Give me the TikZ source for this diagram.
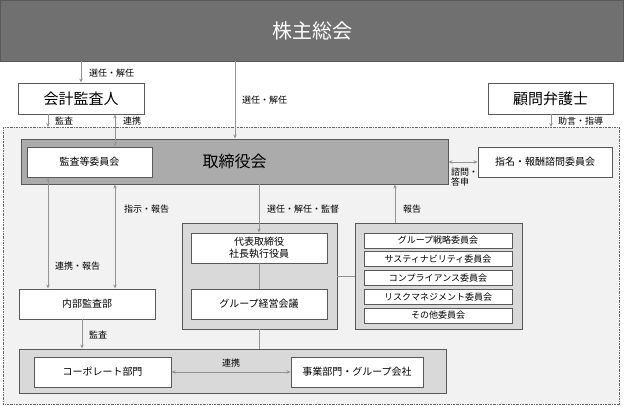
\documentclass[tikz,border=0pt]{standalone}
\usepackage{fontspec}
\setmainfont{Noto Sans CJK JP}
\usetikzlibrary{arrows.meta}
\colorlet{box edge}{black!65}
\colorlet{line gray}{black!42}
\colorlet{banner fill}{black!56}
\colorlet{board fill}{black!33}
\colorlet{group fill}{black!15}
\colorlet{area fill}{black!5}
\tikzset{whitebox/.style={draw=box edge, fill=white, line width=0.9pt, inner sep=0pt,
        font=\fontsize{10}{12}\selectfont},
    groupbox/.style={draw=box edge, fill=group fill, line width=0.9pt, inner sep=0pt},
    itembox/.style={whitebox, minimum width=148pt, minimum height=15pt, font=\fontsize{9}{11}\selectfont},
    conn/.style={draw=line gray, line width=1pt},
    arr/.style={conn, -{Stealth[length=4pt,width=3.5pt]}},
    biarr/.style={conn, {Stealth[length=4pt,width=3.5pt]}-{Stealth[length=4pt,width=3.5pt]}},
    lbl/.style={anchor=west, inner sep=0pt, font=\fontsize{9}{11}\selectfont}}

\begin{document}
\begin{tikzpicture}[x=1pt, y=-1pt]
    \useasboundingbox (0,0) rectangle (624,405);
    % columns for the connectors
    \coordinate (colA) at (48,0);
    \coordinate (colB) at (115,0);
    \coordinate (colC) at (235,0);
    \coordinate (colD) at (259,0);
    \coordinate (colE) at (395,0);
    \coordinate (colF) at (551,0);
    \coordinate (colG) at (82,0);
    \coordinate (edge) at (0,127);
    \coordinate (rowM) at (0,276);

    \node[fill=banner fill, draw=box edge, line width=0.9pt, minimum width=623pt, minimum height=61pt,
        text=white, font=\fontsize{20}{24}\selectfont] (banner) at (312,30.5) {株主総会};
    \node[whitebox, minimum width=126pt, minimum height=31pt, font=\fontsize{15}{18}\selectfont]
        (kaikei) at (81,98.5) {会計監査人};
    \node[whitebox, minimum width=125pt, minimum height=31pt, font=\fontsize{15}{18}\selectfont]
        (komon) at (550.5,98.5) {顧問弁護士};

    \draw[fill=area fill, draw=black!60, line width=0.8pt,
        dash pattern=on 2pt off 1pt on 0.6pt off 1pt] (3,127) rectangle (619,404);

    \node[fill=board fill, draw=box edge, line width=0.9pt, minimum width=427pt, minimum height=45pt,
        font=\fontsize{16}{19}\selectfont] (board) at (234.5,161.5) {取締役会};
    \node[whitebox, minimum width=125pt, minimum height=30pt] (kansa) at (89.5,162) {監査等委員会};
    \node[whitebox, minimum width=134pt, minimum height=30pt] (shimei) at (545,162) {指名・報酬諮問委員会};

    \node[groupbox, minimum width=155pt, minimum height=106pt] (mgmt) at (259.5,276) {};
    \node[whitebox, minimum width=136pt, minimum height=30pt, align=center,
        font=\fontsize{10}{12.5}\selectfont] (daihyo) at (259,248) {代表取締役\\社長執行役員};
    \node[whitebox, minimum width=136pt, minimum height=30pt] (keiei) at (259,304) {グループ経営会議};

    \node[groupbox, minimum width=167pt, minimum height=106pt] (cmte) at (438.5,276) {};
    \foreach \name/\txt [count=\i from 0] in {senryaku/グループ戦略委員会,
        susta/サスティナビリティ委員会, comp/コンプライアンス委員会,
        risk/リスクマネジメント委員会, sonota/その他委員会}
        \node[itembox] (\name) at (438,240.5+18.75*\i) {\txt};

    \node[whitebox, minimum width=136pt, minimum height=30pt] (naibu) at (87,304) {内部監査部};

    \node[groupbox, minimum width=427pt, minimum height=44pt] (band) at (232.5,371) {};
    \node[whitebox, minimum width=137pt, minimum height=30pt] (corp) at (102.5,372) {コーポレート部門};
    \node[whitebox, minimum width=132pt, minimum height=30pt] (jigyo) at (357,372) {事業部門・グループ会社};

    % connectors
    \draw[arr] (banner.south -| kaikei) -- (kaikei.north);
    \draw[arr] (banner.south -| colC) -- (board.north -| colC);
    \draw[arr] (kaikei.south -| colA) -- (edge -| colA);
    \draw[biarr] (kaikei.south -| colB) -- (kansa.north -| colB);
    \draw[arr] (komon.south -| colF) -- (edge -| colF);
    \draw[biarr] (board.east |- shimei) -- (shimei.west);
    \draw[biarr] (kansa.south -| colA) -- (naibu.north -| colA);
    \draw[biarr] (board.south -| colB) -- (naibu.north -| colB);
    \draw[arr] (board.south -| colD) -- (daihyo.north);
    \draw[conn] (daihyo.south) -- (keiei.north);
    \draw[conn] (mgmt.south -| colD) -- (band.north -| colD);
    \draw[conn] (mgmt.east |- rowM) -- (cmte.west |- rowM);
    \draw[arr] (cmte.north -| colE) -- (board.south -| colE);
    \draw[arr] (naibu.south -| colG) -- (band.north -| colG);
    \draw[biarr] (corp.east) -- (jigyo.west);

    % labels
    \node[lbl] (l1) at (89,73) {選任・解任};
    \node[lbl] (l2) at (242,100) {選任・解任};
    \node[lbl] (l3) at (55,121) {監査};
    \node[lbl] (l4) at (123,121) {連携};
    \node[lbl] (l5) at (558,121) {助言・指導};
    \node[lbl, align=left, font=\fontsize{9}{10}\selectfont] (l6) at (451,177.5) {諮問・\\答申};
    \node[lbl] (l7) at (124,209) {指示・報告};
    \node[lbl] (l8) at (267,209) {選任・解任・監督};
    \node[lbl] (l9) at (403,209) {報告};
    \node[lbl] (l10) at (55,266) {連携・報告};
    \node[lbl] (l11) at (89,335) {監査};
    \node[lbl, anchor=center] (l12) at (231,363) {連携};
\end{tikzpicture}
\end{document}
